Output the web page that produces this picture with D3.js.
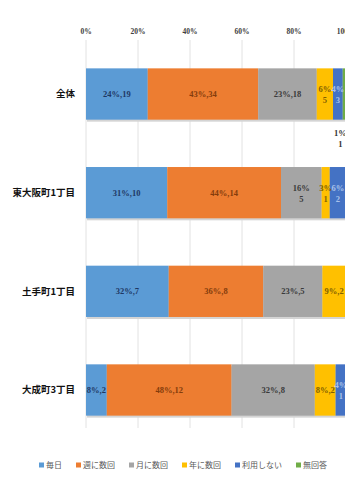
<!DOCTYPE html>
<html>
<head>
<meta charset="utf-8">
<script src="https://cdn.jsdelivr.net/npm/d3@7"></script>
<style>
  html, body { margin: 0; padding: 0; background: #fff; overflow: hidden; }
</style>
</head>
<body>
<div id="chart"></div>
<script>
// ==== data ====
const categories = ["全体", "東大阪町1丁目", "土手町1丁目", "大成町3丁目"];
const series = ["毎日", "週に数回", "月に数回", "年に数回", "利用しない", "無回答"];
const counts = [
  [19, 34, 18, 5, 3, 1],
  [10, 14, 5, 1, 2, 0],
  [7, 8, 5, 2, 0, 0],
  [2, 12, 8, 2, 1, 0]
];
const tickValues = [0, 0.2, 0.4, 0.6, 0.8, 1.0];
// labels that Excel broke into two lines
const twoLine = [
  ["全体", "年に数回"], ["全体", "利用しない"], ["全体", "無回答"],
  ["東大阪町1丁目", "月に数回"], ["東大阪町1丁目", "年に数回"], ["東大阪町1丁目", "利用しない"],
  ["大成町3丁目", "利用しない"]
];
// label drawn below the bar
const outside = [["全体", "無回答"]];

const colors = ["#5b9bd5", "#ed7d31", "#a5a5a5", "#ffc000", "#4472c4", "#70ad47"];
const labelColors = ["#1f3864", "#843c0c", "#3a3a3a", "#7f6000", "#a9c2ea", "#333"];

const W = 345, H = 485;
const svg = d3.select("#chart").append("svg")
  .attr("width", W).attr("height", H);

const x = d3.scaleLinear().domain([0, 1]).range([86, 346]);
const y = d3.scaleBand().domain(categories).range([21, 463]).paddingInner(0.48).paddingOuter(0.48);

// ==== gridlines + tick labels ====
svg.append("g")
  .selectAll("line")
  .data(tickValues)
  .enter().append("line")
    .attr("x1", d => x(d)).attr("x2", d => x(d))
    .attr("y1", 40).attr("y2", 428)
    .attr("stroke", "#e2e2e2").attr("stroke-width", 1);

svg.append("g")
  .selectAll("text")
  .data(tickValues)
  .enter().append("text")
    .attr("x", d => x(d))
    .attr("y", 31)
    .attr("dy", "0.35em")
    .attr("text-anchor", "middle")
    .attr("font-family", "Liberation Serif, serif")
    .attr("font-weight", "bold")
    .attr("font-size", 7.5)
    .attr("fill", "#404040")
    .text(d => Math.round(d * 100) + "%");

// ==== category labels ====
svg.append("g")
  .selectAll("text")
  .data(categories)
  .enter().append("text")
    .attr("x", 75)
    .attr("y", d => y(d) + y.bandwidth() / 2)
    .attr("dy", "0.35em")
    .attr("text-anchor", "end")
    .attr("font-family", "Noto Sans CJK JP, sans-serif")
    .attr("font-weight", "bold")
    .attr("font-size", 9.5)
    .attr("fill", "#111")
    .text(d => d);

// ==== stacked segments ====
const segs = [];
categories.forEach((c, ci) => {
  const total = d3.sum(counts[ci]);
  let acc = 0;
  series.forEach((s, si) => {
    const v = counts[ci][si];
    if (v > 0) segs.push({ c, s, si, v, p0: acc / total, p1: (acc + v) / total, pct: Math.round(v / total * 100) });
    acc += v;
  });
});

// faint shadow under each bar
svg.append("g")
  .selectAll("rect")
  .data(categories)
  .enter().append("rect")
    .attr("x", x(0) + 1)
    .attr("y", d => y(d) + 2)
    .attr("width", x(1) - x(0))
    .attr("height", y.bandwidth())
    .attr("fill", "#d4d4d4");

svg.append("g")
  .selectAll("rect")
  .data(segs)
  .enter().append("rect")
    .attr("x", d => x(d.p0))
    .attr("y", d => y(d.c))
    .attr("width", d => x(d.p1) - x(d.p0))
    .attr("height", y.bandwidth())
    .attr("fill", d => colors[d.si]);

const has = (list, d) => list.some(k => k[0] === d.c && k[1] === d.s);

const labels = svg.append("g")
  .selectAll("text")
  .data(segs)
  .enter().append("text")
    .attr("x", d => (x(d.p0) + x(d.p1)) / 2 - (has(outside, d) ? 4 : 0))
    .attr("y", d => has(outside, d) ? y(d.c) + y.bandwidth() + 13 : y(d.c) + y.bandwidth() / 2)
    .attr("text-anchor", "middle")
    .attr("font-family", "Liberation Serif, serif")
    .attr("font-weight", "bold")
    .attr("font-size", 8.5)
    .attr("fill", d => has(outside, d) ? "#333" : labelColors[d.si]);

labels.each(function(d) {
  const t = d3.select(this);
  if (has(twoLine, d) || has(outside, d)) {
    t.append("tspan").attr("x", t.attr("x")).attr("dy", has(outside, d) ? "0.35em" : "-0.25em").text(d.pct + "%");
    t.append("tspan").attr("x", t.attr("x")).attr("dy", "1.35em").text(d.v);
  } else {
    t.attr("dy", "0.35em").text(d.pct + "%," + d.v);
  }
});

// ==== legend ====
const legend = svg.append("g").attr("transform", "translate(39,465)");
let lx = 0;
series.forEach((s, i) => {
  legend.append("rect")
    .attr("x", lx).attr("y", -2.5)
    .attr("width", 5).attr("height", 5)
    .attr("fill", colors[i]);
  const t = legend.append("text")
    .attr("x", lx + 7)
    .attr("dy", "0.35em")
    .attr("font-family", "Noto Sans CJK JP, sans-serif")
    .attr("font-size", 8)
    .attr("fill", "#595959")
    .text(s);
  lx += 7 + t.node().getComputedTextLength() + 14;
});
</script>
</body>
</html>
